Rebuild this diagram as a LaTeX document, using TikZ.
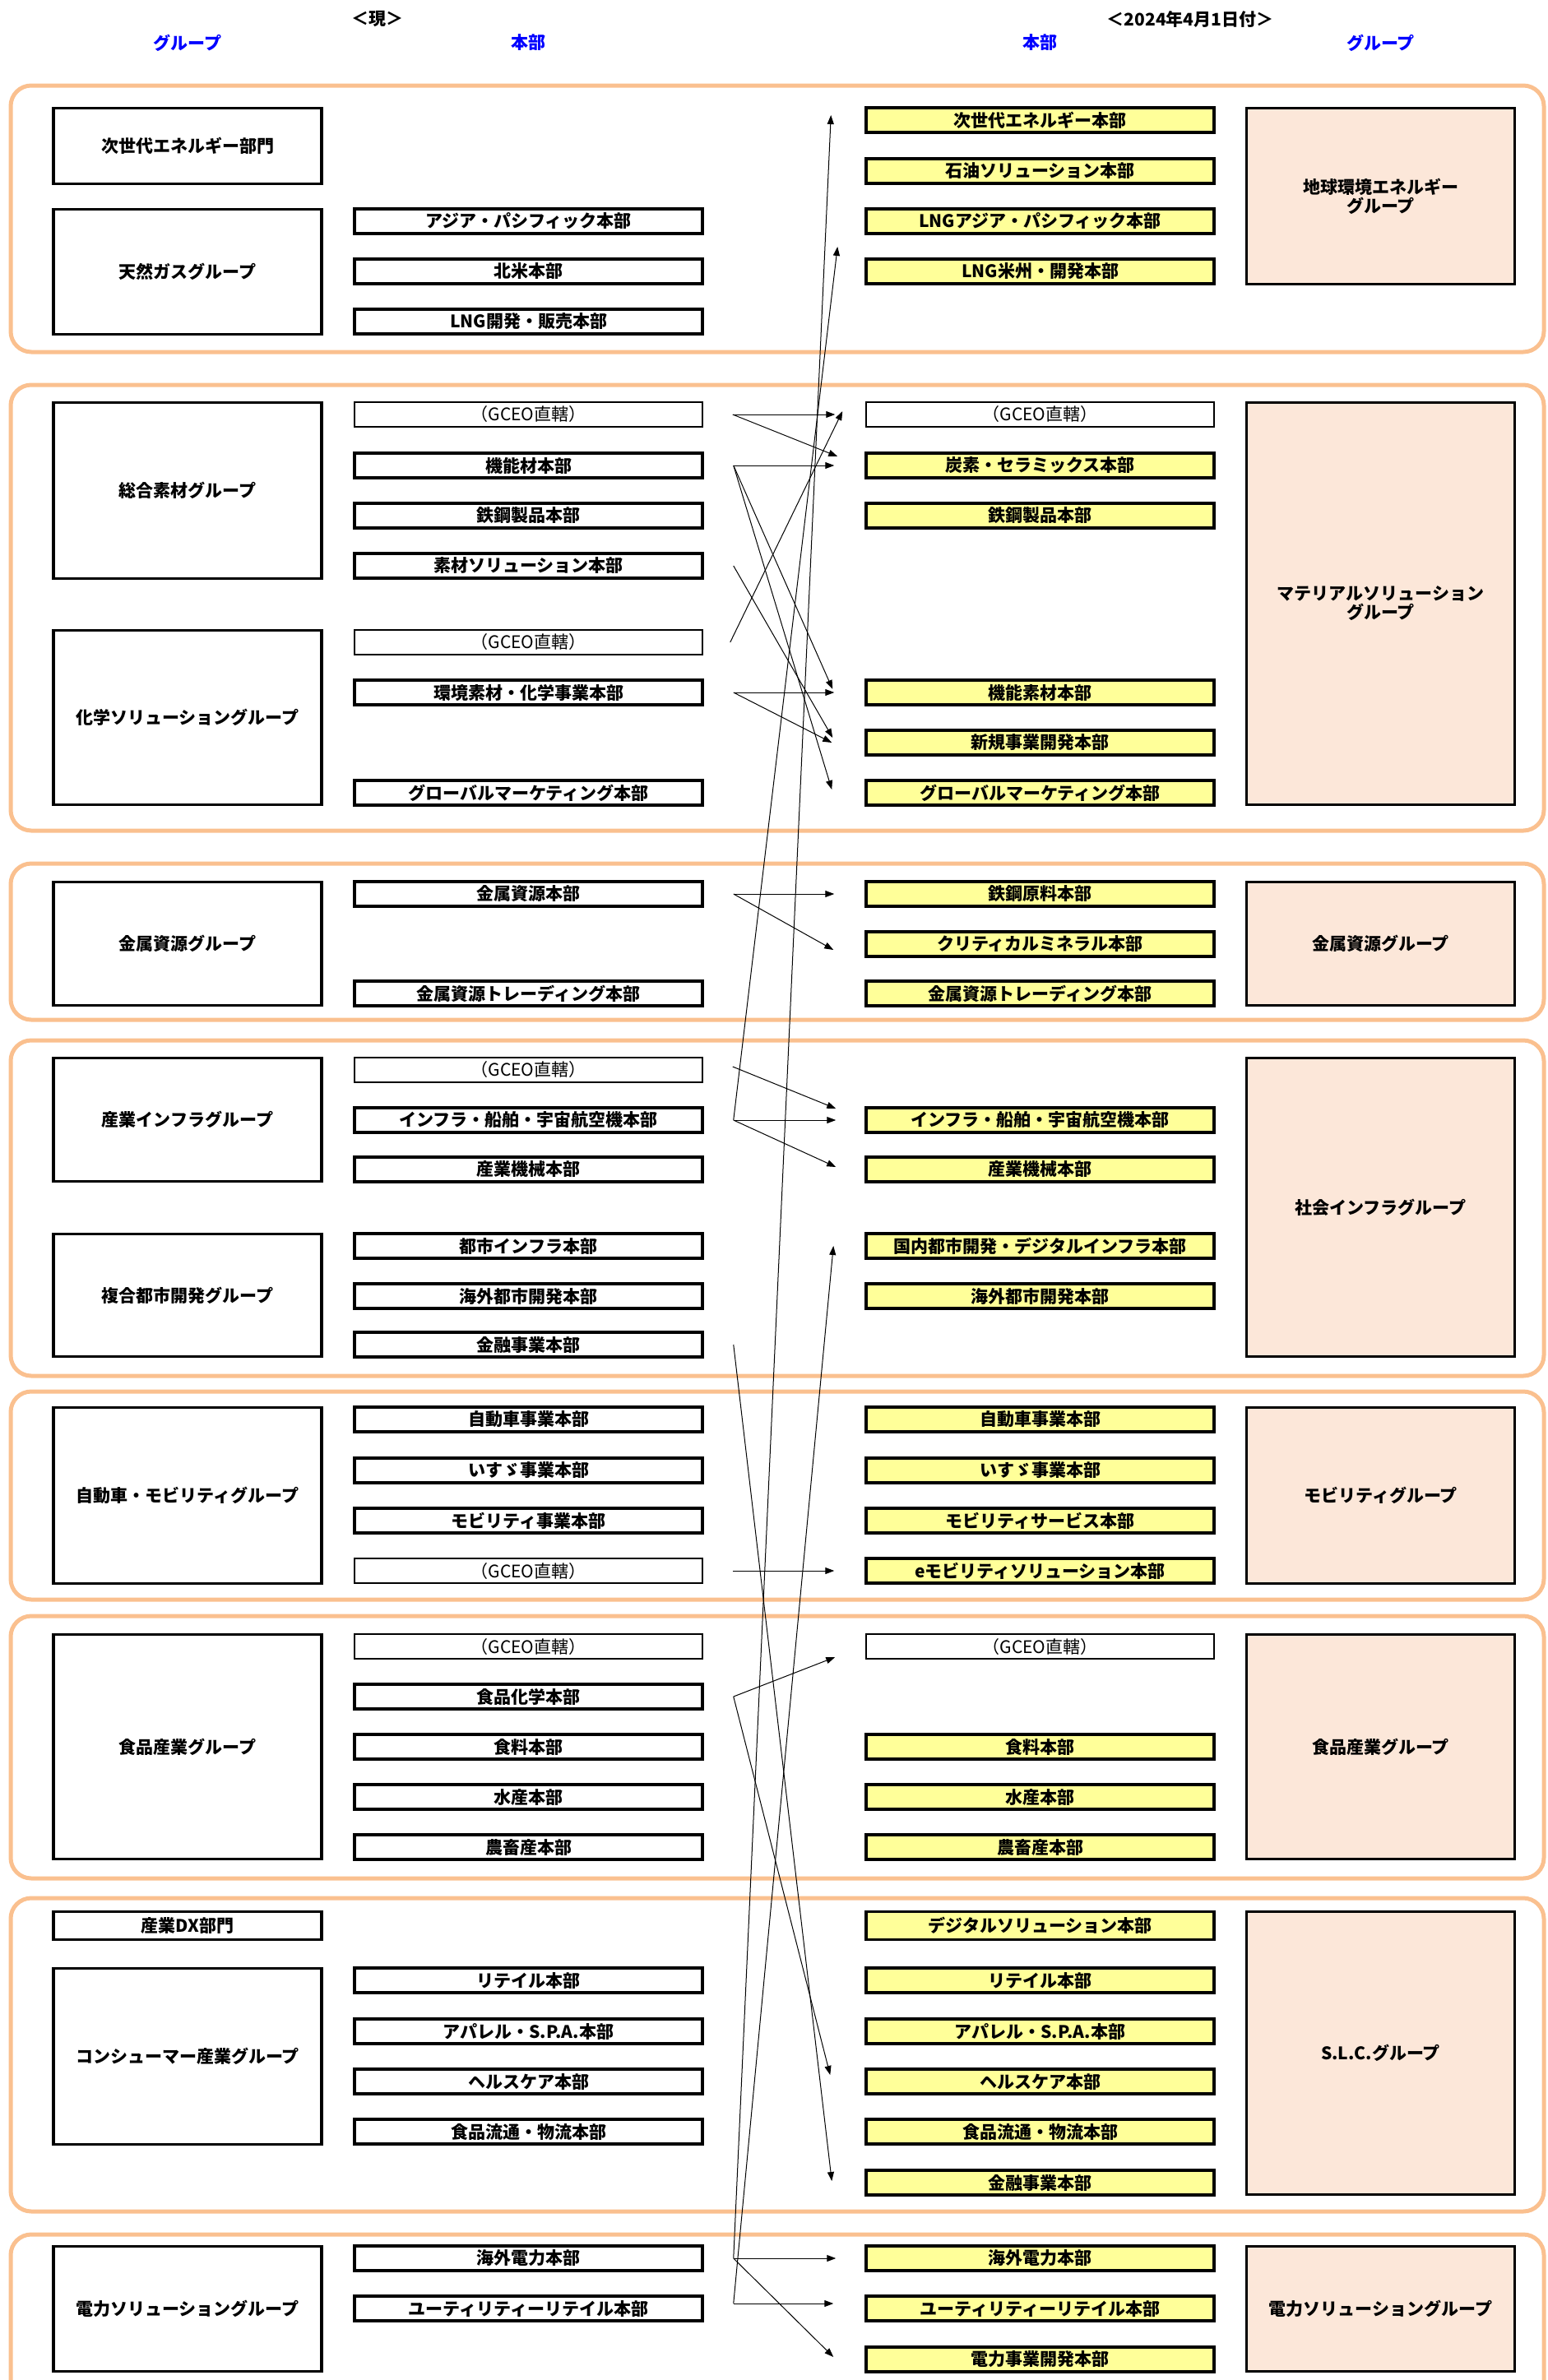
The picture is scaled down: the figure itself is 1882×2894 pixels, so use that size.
\documentclass[tikz,border=0pt]{standalone}
\usepackage{fontspec}
\setmainfont{Noto Sans CJK JP}
\usetikzlibrary{arrows.meta}

\definecolor{hqyellow}{RGB}{255,255,153}
\definecolor{grppeach}{RGB}{252,231,217}
\definecolor{sectorange}{RGB}{250,192,143}

\tikzset{
  sectframe/.style={draw=sectorange,line width=5pt,rounded corners=25pt},
  grp/.style={draw,line width=3.5pt,minimum width=326pt,inner sep=0pt,align=center,
    font=\fontsize{21pt}{23pt}\selectfont\bfseries},
  newgrp/.style={grp,fill=grppeach},
  hq/.style={draw,line width=3.5pt,minimum width=423pt,minimum height=30pt,inner sep=0pt,
    font=\fontsize{21pt}{23pt}\selectfont\bfseries},
  newhq/.style={hq,fill=hqyellow},
  gceo/.style={draw,line width=1.5pt,minimum width=423pt,minimum height=30pt,inner sep=0pt,
    font=\fontsize{21pt}{23pt}\selectfont},
  colhead/.style={text=blue,font=\fontsize{21pt}{23pt}\selectfont\bfseries},
  datehead/.style={font=\fontsize{21pt}{23pt}\selectfont\bfseries},
  conn/.style={-{Triangle[length=11pt,width=8pt]},line width=1pt}
}

\begin{document}
\begin{tikzpicture}[x=1pt,y=-1pt]
\useasboundingbox (0,0) rectangle (1882,2894);

% headings
\node[datehead] (h-now) at (459,23) {＜現＞};
\node[datehead] (h-new) at (1447,23) {＜2024年4月1日付＞};
\node[colhead] (h-lgrp) at (228,52) {グループ};
\node[colhead] (h-lhq) at (642.5,52) {本部};
\node[colhead] (h-rhq) at (1264.5,52) {本部};
\node[colhead] (h-rgrp) at (1678.5,52) {グループ};

% section frames
\draw[sectframe] (13,104) rectangle (1877,428);
\draw[sectframe] (13,468) rectangle (1877,1010);
\draw[sectframe] (13,1050) rectangle (1877,1240);
\draw[sectframe] (13,1265) rectangle (1877,1673);
\draw[sectframe] (13,1692) rectangle (1877,1945);
\draw[sectframe] (13,1965) rectangle (1877,2284);
\draw[sectframe] (13,2308) rectangle (1877,2689);
\draw[sectframe] (13,2930) -- (13,2717) -- (1877,2717) -- (1877,2930);

% current groups
\node[grp,minimum height=92pt] (g-jisedai) at (228,177.5) {次世代エネルギー部門};
\node[grp,minimum height=152pt] (g-gas) at (228,330.5) {天然ガスグループ};
\node[grp,minimum height=214pt] (g-sogo) at (228,596.5) {総合素材グループ};
\node[grp,minimum height=212pt] (g-kagaku) at (228,872.5) {化学ソリューショングループ};
\node[grp,minimum height=150pt] (g-kinzoku) at (228,1147.5) {金属資源グループ};
\node[grp,minimum height=150pt] (g-sangyo) at (228,1361.5) {産業インフラグループ};
\node[grp,minimum height=149pt] (g-fukugo) at (228,1575) {複合都市開発グループ};
\node[grp,minimum height=214pt] (g-jidosha) at (228,1818.5) {自動車・モビリティグループ};
\node[grp,minimum height=273pt] (g-shokuhin) at (228,2124) {食品産業グループ};
\node[grp,minimum height=34pt] (g-dx) at (228,2341.5) {産業DX部門};
\node[grp,minimum height=214pt] (g-consumer) at (228,2500.5) {コンシューマー産業グループ};
\node[grp,minimum height=152pt] (g-denryoku) at (228,2807.5) {電力ソリューショングループ};

% current headquarters
\node[hq] (l-ap) at (642.5,269) {アジア・パシフィック本部};
\node[hq] (l-hokubei) at (642.5,330) {北米本部};
\node[hq] (l-lng) at (642.5,391) {LNG開発・販売本部};
\node[gceo] (l-gceo1) at (642.5,504) {（GCEO直轄）};
\node[hq] (l-kinozai) at (642.5,566) {機能材本部};
\node[hq] (l-tekko) at (642.5,627) {鉄鋼製品本部};
\node[hq] (l-sozai) at (642.5,688) {素材ソリューション本部};
\node[gceo] (l-gceo2) at (642.5,781) {（GCEO直轄）};
\node[hq] (l-kankyo) at (642.5,842) {環境素材・化学事業本部};
\node[hq] (l-gm) at (642.5,964) {グローバルマーケティング本部};
\node[hq] (l-kinzoku) at (642.5,1087) {金属資源本部};
\node[hq] (l-trading) at (642.5,1208) {金属資源トレーディング本部};
\node[gceo] (l-gceo3) at (642.5,1301) {（GCEO直轄）};
\node[hq] (l-infra) at (642.5,1362) {インフラ・船舶・宇宙航空機本部};
\node[hq] (l-kikai) at (642.5,1422) {産業機械本部};
\node[hq] (l-toshiinfra) at (642.5,1515) {都市インフラ本部};
\node[hq] (l-kaigaitoshi) at (642.5,1576) {海外都市開発本部};
\node[hq] (l-kinyu) at (642.5,1635) {金融事業本部};
\node[hq] (l-jidosha) at (642.5,1726) {自動車事業本部};
\node[hq] (l-isuzu) at (642.5,1788) {いすゞ事業本部};
\node[hq] (l-mobility) at (642.5,1849) {モビリティ事業本部};
\node[gceo] (l-gceo4) at (642.5,1910) {（GCEO直轄）};
\node[gceo] (l-gceo5) at (642.5,2002) {（GCEO直轄）};
\node[hq] (l-shokukagaku) at (642.5,2063) {食品化学本部};
\node[hq] (l-shokuryo) at (642.5,2124) {食料本部};
\node[hq] (l-suisan) at (642.5,2185) {水産本部};
\node[hq] (l-nochiku) at (642.5,2246) {農畜産本部};
\node[hq] (l-retail) at (642.5,2408) {リテイル本部};
\node[hq] (l-apparel) at (642.5,2470) {アパレル・S.P.A.本部};
\node[hq] (l-health) at (642.5,2531) {ヘルスケア本部};
\node[hq] (l-ryutsu) at (642.5,2592) {食品流通・物流本部};
\node[hq] (l-kaigaiden) at (642.5,2746) {海外電力本部};
\node[hq] (l-utility) at (642.5,2807) {ユーティリティーリテイル本部};

% new headquarters
\node[newhq] (r-jisedai) at (1264.5,146) {次世代エネルギー本部};
\node[newhq] (r-sekiyu) at (1264.5,208) {石油ソリューション本部};
\node[newhq] (r-lngap) at (1264.5,269) {LNGアジア・パシフィック本部};
\node[newhq] (r-lngam) at (1264.5,330) {LNG米州・開発本部};
\node[gceo] (r-gceo1) at (1264.5,504) {（GCEO直轄）};
\node[newhq] (r-tanso) at (1264.5,566) {炭素・セラミックス本部};
\node[newhq] (r-tekko) at (1264.5,627) {鉄鋼製品本部};
\node[newhq] (r-kinosozai) at (1264.5,842) {機能素材本部};
\node[newhq] (r-shinki) at (1264.5,903) {新規事業開発本部};
\node[newhq] (r-gm) at (1264.5,964) {グローバルマーケティング本部};
\node[newhq] (r-genryo) at (1264.5,1087) {鉄鋼原料本部};
\node[newhq] (r-critical) at (1264.5,1148) {クリティカルミネラル本部};
\node[newhq] (r-trading) at (1264.5,1208) {金属資源トレーディング本部};
\node[newhq] (r-infra) at (1264.5,1362) {インフラ・船舶・宇宙航空機本部};
\node[newhq] (r-kikai) at (1264.5,1422) {産業機械本部};
\node[newhq] (r-kokunai) at (1264.5,1515) {国内都市開発・デジタルインフラ本部};
\node[newhq] (r-kaigaitoshi) at (1264.5,1576) {海外都市開発本部};
\node[newhq] (r-jidosha) at (1264.5,1726) {自動車事業本部};
\node[newhq] (r-isuzu) at (1264.5,1788) {いすゞ事業本部};
\node[newhq] (r-service) at (1264.5,1849) {モビリティサービス本部};
\node[newhq] (r-emob) at (1264.5,1910) {eモビリティソリューション本部};
\node[gceo] (r-gceo2) at (1264.5,2002) {（GCEO直轄）};
\node[newhq] (r-shokuryo) at (1264.5,2124) {食料本部};
\node[newhq] (r-suisan) at (1264.5,2185) {水産本部};
\node[newhq] (r-nochiku) at (1264.5,2246) {農畜産本部};
\node[newhq,minimum height=34pt] (r-digital) at (1264.5,2341.5) {デジタルソリューション本部};
\node[newhq] (r-retail) at (1264.5,2408) {リテイル本部};
\node[newhq] (r-apparel) at (1264.5,2470) {アパレル・S.P.A.本部};
\node[newhq] (r-health) at (1264.5,2531) {ヘルスケア本部};
\node[newhq] (r-ryutsu) at (1264.5,2592) {食品流通・物流本部};
\node[newhq] (r-kinyu) at (1264.5,2654) {金融事業本部};
\node[newhq] (r-kaigaiden) at (1264.5,2746) {海外電力本部};
\node[newhq] (r-utility) at (1264.5,2807) {ユーティリティーリテイル本部};
\node[newhq] (r-hatsuden) at (1264.5,2869) {電力事業開発本部};

% new groups
\node[newgrp,minimum height=214pt] (n-chikyu) at (1678.5,238.5) {地球環境エネルギー\\グループ};
\node[newgrp,minimum height=489pt] (n-material) at (1678.5,734) {マテリアルソリューション\\グループ};
\node[newgrp,minimum height=150pt] (n-kinzoku) at (1678.5,1147.5) {金属資源グループ};
\node[newgrp,minimum height=363pt] (n-shakai) at (1678.5,1468) {社会インフラグループ};
\node[newgrp,minimum height=214pt] (n-mobility) at (1678.5,1818.5) {モビリティグループ};
\node[newgrp,minimum height=273pt] (n-shokuhin) at (1678.5,2124) {食品産業グループ};
\node[newgrp,minimum height=344pt] (n-slc) at (1678.5,2496.5) {S.L.C.グループ};
\node[newgrp,minimum height=152pt] (n-denryoku) at (1678.5,2807.5) {電力ソリューショングループ};

% moves
\draw[conn] ([xshift=36pt]l-gceo1.east) -- ([xshift=-37pt]r-gceo1.west);
\draw[conn] ([xshift=36pt]l-gceo1.east) -- ([xshift=-33pt,yshift=11pt]r-tanso.west);
\draw[conn] ([xshift=36pt]l-kinozai.east) -- ([xshift=-37pt]r-tanso.west);
\draw[conn] ([xshift=36pt]l-kinozai.east) -- ([xshift=-39pt,yshift=4pt]r-kinosozai.west);
\draw[conn] ([xshift=36pt]l-kinozai.east) -- ([xshift=-40pt,yshift=4pt]r-gm.west);
\draw[conn] ([xshift=36pt]l-sozai.east) -- ([xshift=-39pt,yshift=6pt]r-shinki.west);
\draw[conn] ([xshift=33pt]l-gceo2.east) -- ([xshift=-28pt,yshift=4pt]r-gceo1.west);
\draw[conn] ([xshift=36pt]l-kankyo.east) -- ([xshift=-37pt]r-kinosozai.west);
\draw[conn] ([xshift=36pt]l-kankyo.east) -- ([xshift=-40pt]r-shinki.west);
\draw[conn] ([xshift=36pt]l-kinzoku.east) -- ([xshift=-37pt]r-genryo.west);
\draw[conn] ([xshift=36pt]l-kinzoku.east) -- ([xshift=-38pt,yshift=-7pt]r-critical.west);
\draw[conn] ([xshift=36pt,yshift=4pt]l-gceo3.east) -- ([xshift=-35pt,yshift=14pt]r-infra.west);
\draw[conn] ([xshift=36pt]l-infra.east) -- ([xshift=-35pt]r-infra.west);
\draw[conn] ([xshift=36pt]l-infra.east) -- ([xshift=-35pt,yshift=3pt]r-kikai.west);
\draw[conn] ([xshift=36pt]l-infra.east) -- ([xshift=-33pt,yshift=30pt]r-lngam.west);
\draw[conn] ([xshift=36pt]l-kinyu.east) -- ([xshift=-40pt,yshift=2pt]r-kinyu.west);
\draw[conn] ([xshift=36pt]l-gceo4.east) -- ([xshift=-37pt]r-emob.west);
\draw[conn] ([xshift=36pt]l-shokukagaku.east) -- ([xshift=-37pt,yshift=-13pt]r-gceo2.west);
\draw[conn] ([xshift=36pt]l-shokukagaku.east) -- ([xshift=-42pt,yshift=8pt]r-health.west);
\draw[conn] ([xshift=36pt]l-kaigaiden.east) -- ([xshift=-35pt]r-kaigaiden.west);
\draw[conn] ([xshift=36pt]l-kaigaiden.east) -- ([xshift=-38pt,yshift=3pt]r-hatsuden.west);
\draw[conn] ([xshift=36pt]l-kaigaiden.east) -- ([xshift=-41pt,yshift=6pt]r-jisedai.west);
\draw[conn] ([xshift=36pt,yshift=6pt]l-utility.east) -- ([xshift=-38pt,yshift=6pt]r-utility.west);
\draw[conn] ([xshift=36pt,yshift=6pt]l-utility.east) -- ([xshift=-38pt]r-kokunai.west);
\end{tikzpicture}
\end{document}
